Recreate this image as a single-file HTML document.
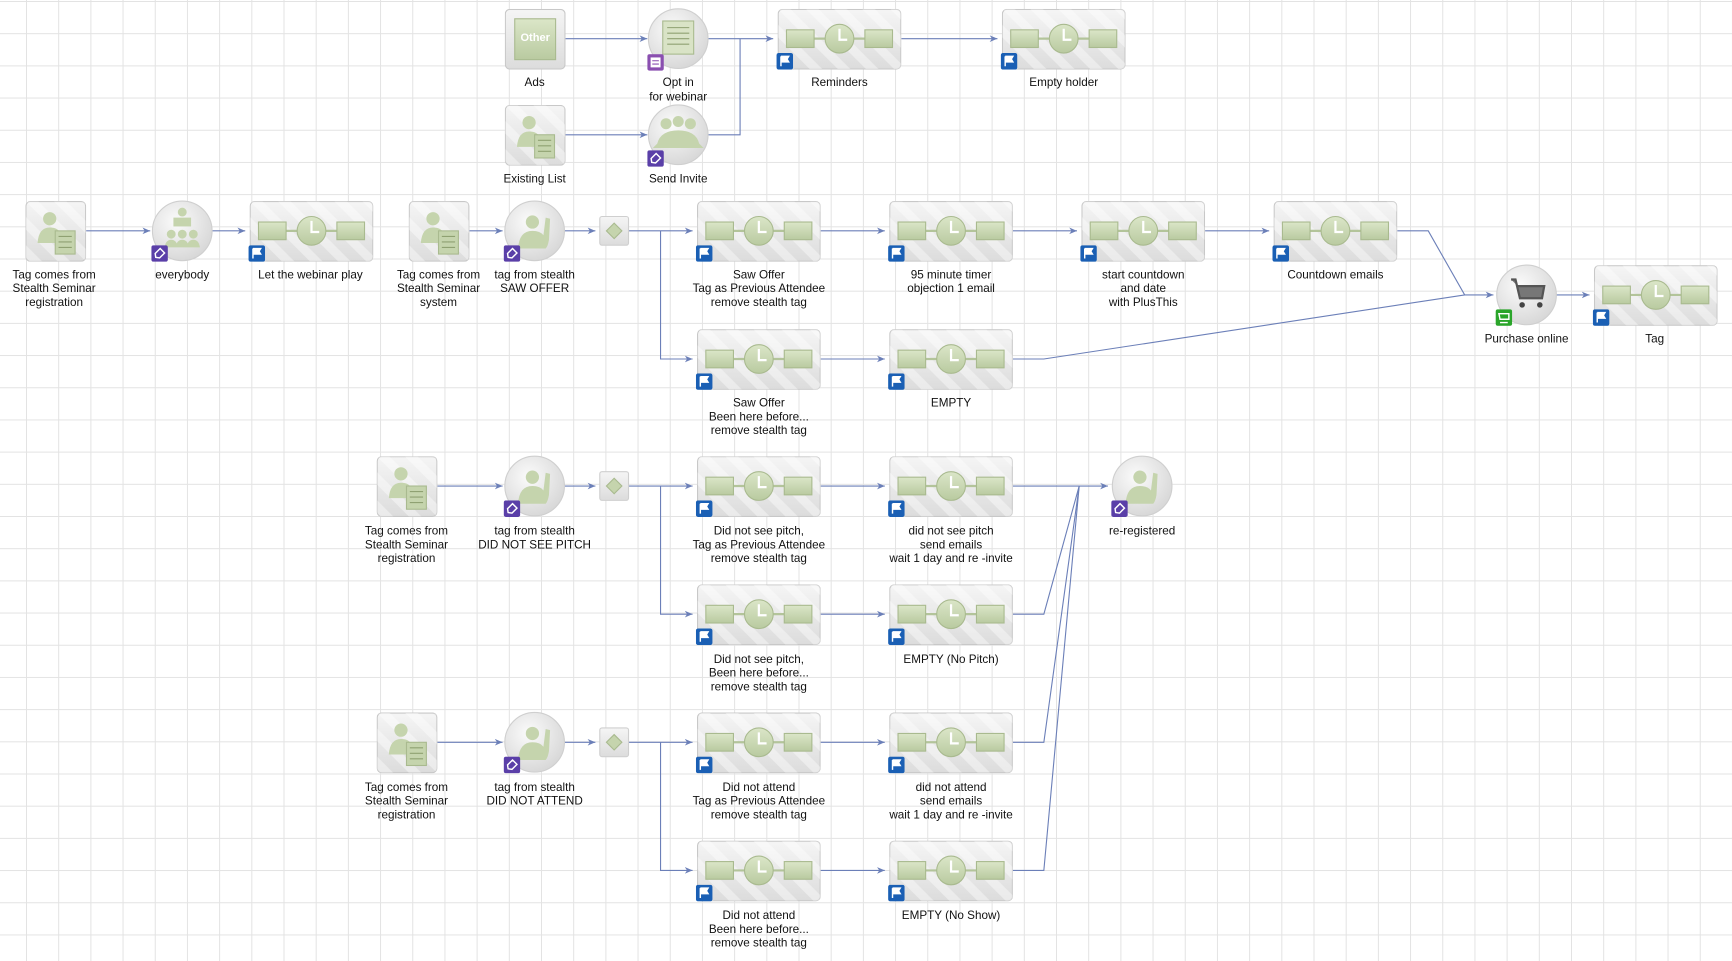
<!DOCTYPE html>
<html><head><meta charset="utf-8"><style>
html,body{margin:0;padding:0;width:1732px;height:961px;overflow:hidden;background:#fff;}
body{background-image:linear-gradient(to right,#e3e3e3 1px,transparent 1px),linear-gradient(to bottom,#e3e3e3 1px,transparent 1px);background-size:32.2px 32.2px;background-position:26px 1px;}
svg{position:absolute;left:0;top:0;}
text{font-family:"Liberation Sans",Arial,sans-serif;font-size:10.6px;fill:#111;text-anchor:middle;}
</style></head><body>
<svg width="1732" height="961" viewBox="0 0 1568 870" xmlns="http://www.w3.org/2000/svg">
<defs>
<linearGradient id="gbox" x1="0" y1="0" x2="0" y2="1"><stop offset="0" stop-color="#f5f5f5"/><stop offset="1" stop-color="#dcdcdc"/></linearGradient>
<pattern id="stripe" width="18" height="18" patternUnits="userSpaceOnUse" patternTransform="rotate(-45)"><rect width="18" height="18" fill="none"/><rect width="8" height="18" fill="#ffffff" opacity="0.4"/></pattern>
<radialGradient id="gcirc" cx="0.4" cy="0.35" r="0.7"><stop offset="0" stop-color="#fbfbfb"/><stop offset="1" stop-color="#d6d6d6"/></radialGradient>
<linearGradient id="ggreen" x1="0" y1="0" x2="0" y2="1"><stop offset="0" stop-color="#dbe6c8"/><stop offset="1" stop-color="#b9caa0"/></linearGradient>
<marker id="ar" markerWidth="8" markerHeight="8" refX="7" refY="4" orient="auto" markerUnits="userSpaceOnUse"><path d="M0,1 L7,4 L0,7 L2,4 Z" fill="#6b7fb8"/></marker>
<symbol id="wide" viewBox="0 0 112 55" width="112" height="55">
<rect x="0.5" y="0.5" width="111" height="54" rx="4" fill="url(#gbox)" stroke="#c8c8c8"/>
<rect x="0.5" y="0.5" width="111" height="54" rx="4" fill="url(#stripe)"/>
<line x1="30" y1="27" x2="82" y2="27" stroke="#b3c49a" stroke-width="2"/>
<rect x="8" y="19" width="25" height="16" fill="url(#ggreen)" stroke="#a9ba8f"/>
<rect x="79" y="19" width="25" height="16" fill="url(#ggreen)" stroke="#a9ba8f"/>
<circle cx="56" cy="27" r="13" fill="url(#ggreen)" stroke="#a9ba8f"/>
<path d="M56,18 V28 H63" stroke="#fff" stroke-width="2" fill="none"/>
</symbol>
<symbol id="sq" viewBox="0 0 55 55" width="55" height="55">
<rect x="0.5" y="0.5" width="54" height="54" rx="4" fill="url(#gbox)" stroke="#c8c8c8"/>
<rect x="0.5" y="0.5" width="54" height="54" rx="4" fill="url(#stripe)"/>
<circle cx="22" cy="16" r="6" fill="#c5d4ad"/>
<path d="M11,38 Q12,24 22,24 Q30,24 32,30 L32,38 Z" fill="#c5d4ad"/>
<rect x="27" y="27" width="18" height="21" fill="#c5d4ad" stroke="#a9ba8f"/>
<path d="M30,32 H42 M30,37 H42 M30,42 H42" stroke="#8fa172" stroke-width="1"/>
</symbol>
<symbol id="other" viewBox="0 0 55 55" width="55" height="55">
<rect x="0.5" y="0.5" width="54" height="54" rx="4" fill="url(#gbox)" stroke="#c8c8c8"/>
<rect x="9" y="9" width="37" height="37" fill="url(#ggreen)" stroke="#a9ba8f"/>
<text x="27.5" y="29" style="font-size:10px;fill:#fff;font-weight:bold">Other</text>
</symbol>
<symbol id="circ" viewBox="0 0 56 56" width="56" height="56">
<circle cx="28" cy="28" r="27" fill="url(#gcirc)" stroke="#cfcfcf"/>
</symbol>
<symbol id="flag" viewBox="0 0 15 15" width="15" height="15">
<rect width="15" height="15" rx="2" fill="#1a5fb4"/>
<path d="M4,3 V12 M4,3 H11 L9.5,5.5 L11,8 H4" stroke="#fff" fill="#fff" stroke-width="1.3"/>
</symbol>
<symbol id="tagb" viewBox="0 0 15 15" width="15" height="15">
<rect width="15" height="15" rx="2" fill="#5a3fa8"/>
<path d="M4,11 L3.5,7.5 L8,3 L12,7 L7.5,11.5 Z" fill="none" stroke="#fff" stroke-width="1.3"/>
</symbol>
<symbol id="formb" viewBox="0 0 15 15" width="15" height="15">
<rect width="15" height="15" rx="2" fill="#8a4fb0"/>
<rect x="3" y="3" width="9" height="9" fill="#fff"/>
<path d="M4.5,6 H10.5 M4.5,9 H10.5" stroke="#8a4fb0"/>
</symbol>
<symbol id="cartb" viewBox="0 0 15 15" width="15" height="15">
<rect width="15" height="15" rx="2" fill="#2aa52a"/>
<path d="M3,4 H12 V9 H4 Z M4,12 H11" stroke="#fff" fill="none" stroke-width="1.3"/>
</symbol>
<symbol id="person" viewBox="0 0 56 56" width="56" height="56">
<circle cx="28" cy="28" r="27" fill="url(#gcirc)" stroke="#cfcfcf"/>
<circle cx="26" cy="20" r="6" fill="#c5d4ad"/>
<path d="M13,44 Q14,28 26,28 Q33,28 36,32 L38,16 L42,17 L41,36 Q40,42 38,44 Z" fill="#c5d4ad"/>
</symbol>
</defs>

<g stroke="#6b7fb8" stroke-width="1" fill="none">
<path d="M512,35 H586" marker-end="url(#ar)"/>
<path d="M512,122 H586" marker-end="url(#ar)"/>
<path d="M641,35 H700" marker-end="url(#ar)"/>
<path d="M641,122 H670 V35"/>
<path d="M816,35 H903" marker-end="url(#ar)"/>
<path d="M78,209 H136" marker-end="url(#ar)"/>
<path d="M192,209 H222" marker-end="url(#ar)"/>
<path d="M425,209 H455" marker-end="url(#ar)"/>
<path d="M511,209 H539" marker-end="url(#ar)"/>
<path d="M569,209 H627" marker-end="url(#ar)"/>
<path d="M598,209 V325 H627" marker-end="url(#ar)"/>
<path d="M743,209 H801" marker-end="url(#ar)"/>
<path d="M917,209 H975" marker-end="url(#ar)"/>
<path d="M1091,209 H1149" marker-end="url(#ar)"/>
<path d="M743,325 H801" marker-end="url(#ar)"/>
<path d="M1265,209 H1293 L1326,267 H1352" marker-end="url(#ar)"/>
<path d="M917,325 H945 L1326,267"/>
<path d="M1409,267 H1439" marker-end="url(#ar)"/>
<path d="M396,440 H455" marker-end="url(#ar)"/>
<path d="M511,440 H539" marker-end="url(#ar)"/>
<path d="M569,440 H627" marker-end="url(#ar)"/>
<path d="M598,440 V556 H627" marker-end="url(#ar)"/>
<path d="M743,440 H801" marker-end="url(#ar)"/>
<path d="M743,556 H801" marker-end="url(#ar)"/>
<path d="M917,440 H1003" marker-end="url(#ar)"/>
<path d="M917,556 H945 L977,440"/>
<path d="M917,672 H945 L977,440"/>
<path d="M917,788 H945 L977,440"/>
<path d="M396,672 H455" marker-end="url(#ar)"/>
<path d="M511,672 H539" marker-end="url(#ar)"/>
<path d="M569,672 H627" marker-end="url(#ar)"/>
<path d="M598,672 V788 H627" marker-end="url(#ar)"/>
<path d="M743,672 H801" marker-end="url(#ar)"/>
<path d="M743,788 H801" marker-end="url(#ar)"/>
</g>

<use href="#other" x="457" y="8"/>
<use href="#circ" x="586" y="7"/>
<g fill="#d9e3c6" stroke="#a9ba8f"><rect x="600" y="19" width="28" height="30"/></g>
<path d="M604,25 H624 M604,30 H624 M604,35 H624 M604,40 H624" stroke="#8fa172"/>
<use href="#formb" x="586" y="49"/>
<use href="#wide" x="704" y="8"/><use href="#flag" x="703" y="48"/>
<use href="#wide" x="907" y="8"/><use href="#flag" x="906" y="48"/>
<use href="#sq" x="457" y="95"/>
<use href="#circ" x="586" y="94"/>
<g fill="#c5d4ad"><circle cx="603" cy="112" r="5"/><circle cx="614" cy="110" r="5"/><circle cx="625" cy="112" r="5"/><path d="M595,130 Q598,118 614,118 Q630,118 633,130 L637,134 H591 Z"/></g>
<use href="#tagb" x="586" y="136"/>

<use href="#sq" x="23" y="182"/>
<use href="#circ" x="137" y="181"/>
<g fill="#c5d4ad"><circle cx="165" cy="192" r="4"/><rect x="157" y="197" width="16" height="8"/><circle cx="155" cy="212" r="4"/><circle cx="165" cy="212" r="4"/><circle cx="175" cy="212" r="4"/><path d="M149,224 Q150,217 155,217 Q160,217 161,224 Z M159,224 Q160,217 165,217 Q170,217 171,224 Z M169,224 Q170,217 175,217 Q180,217 181,224 Z"/></g>
<use href="#tagb" x="137" y="222"/>
<use href="#wide" x="226" y="182"/><use href="#flag" x="225" y="222"/>
<use href="#sq" x="370" y="182"/>
<use href="#person" x="456" y="181"/><use href="#tagb" x="456" y="222"/>
<rect x="543" y="196" width="26" height="26" rx="2" fill="url(#gbox)" stroke="#cfcfcf"/><path d="M556,202 L563,209 L556,216 L549,209 Z" fill="#c5d4ad" stroke="#a9ba8f"/>
<use href="#wide" x="631" y="182"/><use href="#flag" x="630" y="222"/>
<use href="#wide" x="805" y="182"/><use href="#flag" x="804" y="222"/>
<use href="#wide" x="979" y="182"/><use href="#flag" x="978" y="222"/>
<use href="#wide" x="1153" y="182"/><use href="#flag" x="1152" y="222"/>
<use href="#wide" x="631" y="298"/><use href="#flag" x="630" y="338"/>
<use href="#wide" x="805" y="298"/><use href="#flag" x="804" y="338"/>
<use href="#circ" x="1354" y="239"/>
<path d="M1368,253 H1372 L1376,270 H1396 L1398,259 H1374" stroke="#555" stroke-width="2" fill="#777"/>
<circle cx="1378" cy="276" r="2.5" fill="#444"/><circle cx="1394" cy="276" r="2.5" fill="#444"/>
<use href="#cartb" x="1354" y="280"/>
<use href="#wide" x="1443" y="240"/><use href="#flag" x="1442" y="280"/>

<use href="#sq" x="341" y="413"/>
<use href="#person" x="456" y="412"/><use href="#tagb" x="456" y="453"/>
<rect x="543" y="427" width="26" height="26" rx="2" fill="url(#gbox)" stroke="#cfcfcf"/><path d="M556,433 L563,440 L556,447 L549,440 Z" fill="#c5d4ad" stroke="#a9ba8f"/>
<use href="#wide" x="631" y="413"/><use href="#flag" x="630" y="453"/>
<use href="#wide" x="805" y="413"/><use href="#flag" x="804" y="453"/>
<use href="#wide" x="631" y="529"/><use href="#flag" x="630" y="569"/>
<use href="#wide" x="805" y="529"/><use href="#flag" x="804" y="569"/>
<use href="#person" x="1006" y="412"/><use href="#tagb" x="1006" y="453"/>

<use href="#sq" x="341" y="645"/>
<use href="#person" x="456" y="644"/><use href="#tagb" x="456" y="685"/>
<rect x="543" y="659" width="26" height="26" rx="2" fill="url(#gbox)" stroke="#cfcfcf"/><path d="M556,665 L563,672 L556,679 L549,672 Z" fill="#c5d4ad" stroke="#a9ba8f"/>
<use href="#wide" x="631" y="645"/><use href="#flag" x="630" y="685"/>
<use href="#wide" x="805" y="645"/><use href="#flag" x="804" y="685"/>
<use href="#wide" x="631" y="761"/><use href="#flag" x="630" y="801"/>
<use href="#wide" x="805" y="761"/><use href="#flag" x="804" y="801"/>

<text x="484" y="78">Ads</text>
<text x="614" y="78">Opt in</text><text x="614" y="91">for webinar</text>
<text x="760" y="78">Reminders</text>
<text x="963" y="78">Empty holder</text>
<text x="484" y="165">Existing List</text>
<text x="614" y="165">Send Invite</text>

<text x="49" y="252">Tag comes from</text><text x="49" y="264.5">Stealth Seminar</text><text x="49" y="277">registration</text>
<text x="165" y="252">everybody</text>
<text x="281" y="252">Let the webinar play</text>
<text x="397" y="252">Tag comes from</text><text x="397" y="264.5">Stealth Seminar</text><text x="397" y="277">system</text>
<text x="484" y="252">tag from stealth</text><text x="484" y="264.5">SAW OFFER</text>
<text x="687" y="252">Saw Offer</text><text x="687" y="264.5">Tag as Previous Attendee</text><text x="687" y="277">remove stealth tag</text>
<text x="861" y="252">95 minute timer</text><text x="861" y="264.5">objection 1 email</text>
<text x="1035" y="252">start countdown</text><text x="1035" y="264.5">and date</text><text x="1035" y="277">with PlusThis</text>
<text x="1209" y="252">Countdown emails</text>
<text x="1382" y="310">Purchase online</text>
<text x="1498" y="310">Tag</text>
<text x="687" y="368">Saw Offer</text><text x="687" y="380.5">Been here before...</text><text x="687" y="393">remove stealth tag</text>
<text x="861" y="368">EMPTY</text>

<text x="368" y="484">Tag comes from</text><text x="368" y="496.5">Stealth Seminar</text><text x="368" y="509">registration</text>
<text x="484" y="484">tag from stealth</text><text x="484" y="496.5">DID NOT SEE PITCH</text>
<text x="687" y="484">Did not see pitch,</text><text x="687" y="496.5">Tag as Previous Attendee</text><text x="687" y="509">remove stealth tag</text>
<text x="861" y="484">did not see pitch</text><text x="861" y="496.5">send emails</text><text x="861" y="509">wait 1 day and re -invite</text>
<text x="1034" y="484">re-registered</text>
<text x="687" y="600">Did not see pitch,</text><text x="687" y="612.5">Been here before...</text><text x="687" y="625">remove stealth tag</text>
<text x="861" y="600">EMPTY (No Pitch)</text>

<text x="368" y="716">Tag comes from</text><text x="368" y="728.5">Stealth Seminar</text><text x="368" y="741">registration</text>
<text x="484" y="716">tag from stealth</text><text x="484" y="728.5">DID NOT ATTEND</text>
<text x="687" y="716">Did not attend</text><text x="687" y="728.5">Tag as Previous Attendee</text><text x="687" y="741">remove stealth tag</text>
<text x="861" y="716">did not attend</text><text x="861" y="728.5">send emails</text><text x="861" y="741">wait 1 day and re -invite</text>
<text x="687" y="832">Did not attend</text><text x="687" y="844.5">Been here before...</text><text x="687" y="857">remove stealth tag</text>
<text x="861" y="832">EMPTY (No Show)</text>
</svg>
</body></html>
